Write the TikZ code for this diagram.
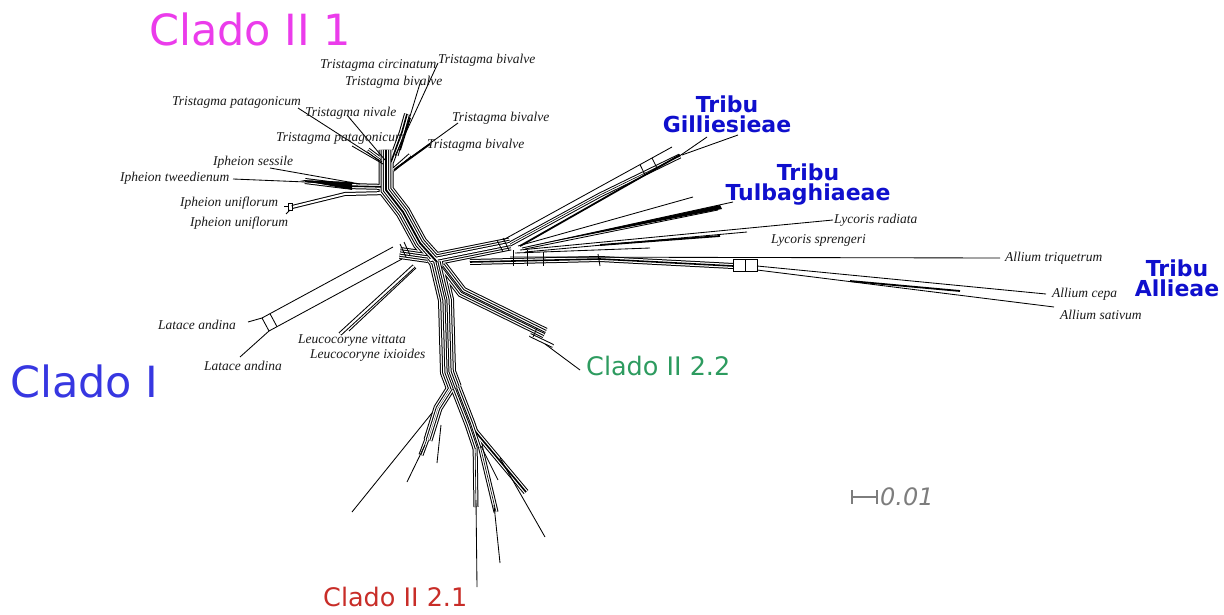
\documentclass[tikz,border=0pt]{standalone}
\usepackage{fontspec}
\usetikzlibrary{calc}
\setmainfont{Liberation Serif}
\newfontfamily\labfont{DejaVu Sans}
\definecolor{cmag}{RGB}{235,60,235}
\definecolor{cblue}{RGB}{55,55,225}
\definecolor{cgreen}{RGB}{45,155,95}
\definecolor{cred}{RGB}{200,45,40}
\definecolor{tblue}{RGB}{15,15,205}
\definecolor{sgray}{RGB}{125,125,125}
\newcommand\tube[2]{\pgfmathsetmacro\ww{#1-\off}\ifdim\ww pt>0.05pt\relax\draw[line width=\ww pt,color=\col] #2;\fi}
\begin{document}
\begin{tikzpicture}[x=1pt,y=-1pt,
  sp/.style={font=\fontsize{13.5}{15}\selectfont\itshape, inner sep=0pt, text=black!90, anchor=west},
  leaf/.style={line width=0.85pt},
  thk/.style={line width=1.8pt},
  clado/.style={font=\labfont\fontsize{43}{50}\selectfont, inner sep=0pt, anchor=west},
  cladob/.style={font=\labfont\fontsize{25.5}{30}\selectfont, inner sep=0pt, anchor=west},
  tribu/.style={font=\labfont\bfseries\fontsize{22}{20}\selectfont, text=tblue, align=center, inner sep=0pt}
]
\useasboundingbox (0,0) rectangle (1224,615);

% hubs
\coordinate (U) at (386,150);
\coordinate (C) at (437,262);
\coordinate (R) at (510,244);
\coordinate (D) at (454,388);

% ---- bundles (splits) drawn as layered tubes
\foreach \off/\col in {0/black,2/white,4.4/black,6.4/white,8.8/black,10.8/white,13.2/black,15.2/white,17.6/black,19.6/white}{
  \tube{15}{(U)--(386,190)--(403,212)--(420,243)--(C)}
  \tube{6}{(388,187)--(345,186)--(305,181)}
  \tube{4}{(388,193)--(345,194)--(292,207)}
  \tube{6}{(391,162)--(402,132)--(407,114)}
  \tube{5}{(384,162)--(368,150)}
  \tube{4}{(393,170)--(410,155)}
  \tube{13}{(430,260)--(470,252)--(R)}
  \tube{12}{(428,257)--(400,253)}
  \tube{6}{(470,262)--(600,259)--(733,266)}
  \tube{5}{(R)--(600,195)--(680,156)}
  \tube{11}{(442,266)--(462,292)--(545,333)}
  \tube{4}{(530,335)--(553,346)}
  \tube{16}{(C)--(446,300)--(448,372)--(D)}
  \tube{9}{(452,386)--(438,408)--(428,440)}
  \tube{5}{(434,420)--(421,455)}
  \tube{11}{(456,388)--(470,424)--(478,448)}
  \tube{6}{(474,430)--(526,492)}
  \tube{5}{(475,440)--(476,507)}
  \tube{5}{(480,445)--(496,512)}
  \tube{4}{(414,266)--(340,334)}
}

% ---- Tristagma leaves
\draw[leaf] (395,156)--(438,63);
\draw[leaf] (398,156)--(421,80);
\draw[thk] (400,150)--(410,118);
\draw[leaf] (382,162)--(298,108);
\draw[leaf] (385,160)--(347,115);
\draw[leaf] (383,164)--(352,146);
\draw[leaf] (396,168)--(458,123);
\draw[thk] (394,170)--(430,144);
% ---- Ipheion leaves
\draw[leaf] (360,184)--(270,168);
\draw[leaf] (330,183)--(233,179);
\fill (352,182)--(300,180)--(352,190)--cycle;
\draw[leaf] (292,203) rectangle (288,210);
\draw[leaf] (288,206)--(284,206);
\draw[leaf] (290,210)--(286,214);
% ---- Latace
\draw[leaf] (393,247)--(262,318);
\draw[leaf] (402,259)--(269,331);
\draw[leaf] (262,318)--(269,331);
\draw[leaf] (270,313.7)--(277,326.7);
\draw[leaf] (262,318)--(248,322);
\draw[leaf] (269,331)--(240,357);
\draw[leaf] (400,244)--(406,257);
\draw[leaf] (404,242)--(410,255);
% ---- Leucocoryne
\draw[leaf] (416,268)--(349,331);
% ---- Gilliesieae
\draw[leaf] (503,240)--(672,147);
\draw[thk] (520,246)--(680,155);
\draw[leaf] (640,164.6)--(645,174.9);
\draw[leaf] (652,158)--(657,168.1);
\draw[leaf] (678,157)--(707,137);
\draw[leaf] (682,155)--(738,135);
\draw[leaf] (497,240)--(503,252);
\draw[leaf] (503,238)--(509,250);
% ---- Tulbaghiaeae
\draw[leaf] (518,246)--(693,197);
\fill (530,246)--(720,205)--(722,209)--cycle;
\draw[leaf] (522,248)--(733,202);
\draw[leaf] (525,249)--(718,210);
% ---- Lycoris
\draw[leaf] (520,250)--(833,220);
\draw[leaf] (525,252)--(747,232);
\draw[thk] (600,245)--(720,236);
\draw[leaf] (515,253)--(650,248);
% ---- Allium
\draw[leaf] (510,257)--(1000,258);
\draw[leaf] (733,259) rectangle (757,271);
\draw[leaf] (745,259)--(745,271);
\draw[leaf] (513,250)--(513,266);
\draw[leaf] (527,250)--(527,266);
\draw[leaf] (543,252)--(543,266);
\draw[leaf] (598,254)--(600,266);
\draw[leaf] (757,266)--(1046,294);
\draw[leaf] (757,270)--(1054,307);
\draw[thk] (850,281)--(960,291);
% ---- Clado II 2.2 leaves
\draw[leaf] (545,344)--(580,370);
\draw[leaf] (537,328)--(533,337);
% ---- Clado II 2.1 leaves
\draw[leaf] (432,413)--(352,512);
\draw[leaf] (425,445)--(407,482);
\draw[leaf] (441,425)--(437,463);
\draw[leaf] (476,500)--(477,587);
\draw[leaf] (494,505)--(500,563);
\draw[leaf] (500,458)--(545,537);
\draw[leaf] (481,446)--(498,480);

% ---- species labels
\node[sp] (tcir) at (320,65) {Tristagma circinatum};
\node[sp] (tb1) at (438,60) {Tristagma bivalve};
\node[sp] (tb2) at (345,82) {Tristagma bivalve};
\node[sp] (tpa1) at (172,102) {Tristagma patagonicum};
\node[sp] (tniv) at (305,113) {Tristagma nivale};
\node[sp] (tb3) at (452,118) {Tristagma bivalve};
\node[sp] (tpa2) at (276,138) {Tristagma patagonicum};
\node[sp] (tb4) at (427,145) {Tristagma bivalve};
\node[sp] (ises) at (213,162) {Ipheion sessile};
\node[sp] (itw) at (120,178) {Ipheion tweedienum};
\node[sp] (iun1) at (180,203) {Ipheion uniflorum};
\node[sp] (iun2) at (190,223) {Ipheion uniflorum};
\node[sp] (lat1) at (158,325) {Latace andina};
\node[sp] (lat2) at (204,366) {Latace andina};
\node[sp] (lvit) at (298,340) {Leucocoryne vittata};
\node[sp] (lixi) at (310,355) {Leucocoryne ixioides};
\node[sp] (lrad) at (834,220) {Lycoris radiata};
\node[sp] (lspr) at (771,240) {Lycoris sprengeri};
\node[sp] (atri) at (1005,258) {Allium triquetrum};
\node[sp] (acep) at (1052,294) {Allium cepa};
\node[sp] (asat) at (1060,315) {Allium sativum};

% ---- group labels
\node[clado, text=cmag] (c21) at (149,29) {Clado II 1};
\node[clado, text=cblue] (c1) at (10,381) {Clado I};
\node[cladob, text=cgreen] (c22) at (586,366) {Clado II 2.2};
\node[cladob, text=cred] (c211) at (323,597) {Clado II 2.1};
\node[tribu] (tg) at (727,114) {Tribu\\Gilliesieae};
\node[tribu] (tt) at (808,185) {Tribu\\Tulbaghiaeae};
\node[tribu] (ta) at (1177,278) {Tribu\\Allieae};

% ---- scale bar
\coordinate (sb1) at (852,497);
\coordinate (sb2) at (877,497);
\draw[sgray, line width=2pt] (sb1)--(sb2) ($(sb1)+(0,-7)$)--($(sb1)+(0,7)$) ($(sb2)+(0,-7)$)--($(sb2)+(0,7)$);
\node[font=\labfont\itshape\fontsize{24}{28}\selectfont, text=sgray, inner sep=0pt, anchor=west] (sc) at (880,497) {0.01};
\end{tikzpicture}
\end{document}
